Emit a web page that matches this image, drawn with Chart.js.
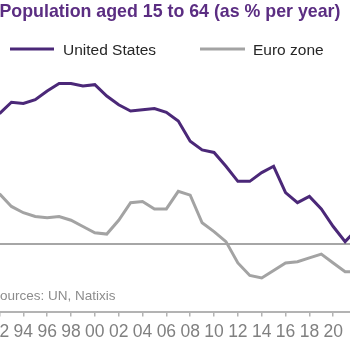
<!DOCTYPE html>
<html>
<head>
<meta charset="utf-8">
<script src="https://cdn.jsdelivr.net/npm/chart.js@4.4.1/dist/chart.umd.min.js"></script>
<style>
  html, body { margin: 0; padding: 0; background: #fff; }
  #wrap { position: relative; width: 350px; height: 350px; overflow: hidden; }
  #chart { position: absolute; left: -30px; top: 0; }
</style>
</head>
<body>
<div id="wrap"><canvas id="chart" width="420" height="350"></canvas></div>
<script>
const years = [1992, 1993, 1994, 1995, 1996, 1997, 1998, 1999, 2000, 2001,
	2002, 2003, 2004, 2005, 2006, 2007, 2008, 2009, 2010, 2011,
	2012, 2013, 2014, 2015, 2016, 2017, 2018, 2019, 2020, 2021, 2022];
const usValues = [1.04, 1.13, 1.12, 1.15, 1.22, 1.28, 1.28, 1.26, 1.27, 1.18,
	1.11, 1.06, 1.07, 1.08, 1.05, 0.98, 0.82, 0.75, 0.73, 0.62,
	0.50, 0.50, 0.57, 0.62, 0.41, 0.33, 0.38, 0.28, 0.14, 0.02, 0.12];
const euroValues = [0.40, 0.30, 0.25, 0.22, 0.21, 0.22, 0.19, 0.14, 0.09, 0.08,
	0.19, 0.33, 0.34, 0.28, 0.28, 0.42, 0.39, 0.17, 0.10, 0.02,
	-0.15, -0.25, -0.27, -0.21, -0.15, -0.14, -0.11, -0.08, -0.15, -0.22, -0.22];
const tickYears = [1992, 1994, 1996, 1998, 2000, 2002, 2004, 2006, 2008, 2010, 2012, 2014, 2016, 2018, 2020];
const tickLabels = ["92", "94", "96", "98", "00", "02", "04", "06", "08", "10", "12", "14", "16", "18", "20"];
const seriesNames = ["United States", "Euro zone"];
const sourceNote = "Sources: UN, Natixis";

const FONT = "'Liberation Sans', Arial, sans-serif";
const usColor = "#4b2878";
const euroColor = "#a3a3a3";

// legend + source line, drawn by hand so the spacing matches
const decor = {
	id: "decor",
	afterDraw(chart) {
		const ctx = chart.ctx;
		const off = 30;
		const items = [
			{ x0: 10, x1: 54, tx: 63 },
			{ x0: 200, x1: 245, tx: 253 },
		];
		ctx.save();
		chart.data.datasets.forEach((ds, i) => {
			const it = items[i];
			ctx.strokeStyle = ds.borderColor;
			ctx.lineWidth = 3;
			ctx.beginPath();
			ctx.moveTo(it.x0 + off, 49);
			ctx.lineTo(it.x1 + off, 49);
			ctx.stroke();
			ctx.fillStyle = "#262626";
			ctx.font = "15.5px " + FONT;
			ctx.textBaseline = "alphabetic";
			ctx.fillText(ds.label, it.tx + off, 55);
		});
		ctx.fillStyle = "#8c8c8c";
		ctx.font = "13.5px " + FONT;
		ctx.fillText(sourceNote, -9 + off, 300);
		ctx.restore();
	},
};

new Chart(document.getElementById("chart"), {
	type: "line",
	data: {
		datasets: [
			{
				label: seriesNames[0],
				data: years.map((y, i) => ({ x: y, y: usValues[i] })),
				borderColor: usColor,
				borderWidth: 3,
				pointRadius: 0,
				tension: 0,
			},
			{
				label: seriesNames[1],
				data: years.map((y, i) => ({ x: y, y: euroValues[i] })),
				borderColor: euroColor,
				borderWidth: 3,
				pointRadius: 0,
				tension: 0,
			},
		],
	},
	options: {
		responsive: false,
		animation: false,
		devicePixelRatio: 1,
		layout: {
			padding: { left: 29.5, right: 38.9, top: 0, bottom: 2.6 },
		},
		plugins: {
			legend: { display: false },
			tooltip: { enabled: false },
			title: {
				display: true,
				text: "Population aged 15 to 64 (as % per year)",
				align: "start",
				color: "#5b2d82",
				font: { family: FONT, size: 17.8, weight: "bold" },
				padding: { top: 1, bottom: 45 },
			},
		},
		scales: {
			x: {
				type: "linear",
				min: 1992,
				max: 2021.5,
				afterBuildTicks: (scale) => {
					scale.ticks = tickYears.map((v) => ({ value: v }));
				},
				ticks: {
					color: "#808080",
					font: { family: FONT, size: 17.5 },
					padding: 5,
					maxRotation: 0,
					autoSkip: false,
					callback: (v, i) => tickLabels[i],
				},
				grid: {
					drawOnChartArea: false,
					drawTicks: true,
					tickLength: 4,
					color: "#b3b3b3",
					lineWidth: 1.5,
				},
				border: { display: true, color: "#b3b3b3", width: 2 },
			},
			y: {
				min: -0.544,
				max: 1.408,
				afterFit: (scale) => {
					scale.width = 0;
				},
				ticks: { display: false, stepSize: 0.2 },
				grid: {
					drawTicks: false,
					lineWidth: 2,
					color: (c) => (c.tick && c.tick.value === 0 ? "#a6a6a6" : "rgba(0,0,0,0)"),
				},
				border: { display: false },
			},
		},
	},
	plugins: [decor],
});
</script>
</body>
</html>
